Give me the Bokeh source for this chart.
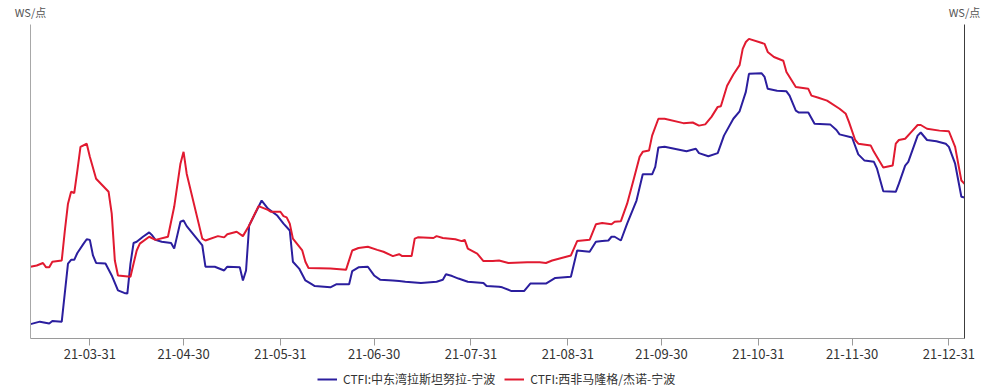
import pandas as pd
from datetime import datetime
from bokeh.plotting import figure
from bokeh.layouts import column
from bokeh.models import (Range1d, LinearAxis, FixedTicker, DatetimeTickFormatter,
                          CustomJSTickFormatter, Legend, LegendItem)
from bokeh.embed import file_html
from bokeh.resources import INLINE

# ---------------- data ----------------
series_names = ["CTFI:中东湾拉斯坦努拉-宁波", "CTFI:西非马隆格/杰诺-宁波"]
unit_label = "WS/点"

tick_dates = ["2021-03-31", "2021-04-30", "2021-05-31", "2021-06-30", "2021-07-31",
              "2021-08-31", "2021-09-30", "2021-10-31", "2021-11-30", "2021-12-31"]

blue_dates = [
    "2021-03-12", "2021-03-15", "2021-03-18", "2021-03-19", "2021-03-22", "2021-03-24",
    "2021-03-25", "2021-03-26", "2021-03-27", "2021-03-29", "2021-03-30", "2021-03-31",
    "2021-04-01", "2021-04-02", "2021-04-05", "2021-04-07", "2021-04-09", "2021-04-11",
    "2021-04-12", "2021-04-13", "2021-04-14", "2021-04-15", "2021-04-17", "2021-04-19",
    "2021-04-20", "2021-04-21", "2021-04-23", "2021-04-26", "2021-04-27", "2021-04-29",
    "2021-04-30", "2021-05-01", "2021-05-06", "2021-05-07", "2021-05-10", "2021-05-13",
    "2021-05-14", "2021-05-18", "2021-05-19", "2021-05-20", "2021-05-21", "2021-05-25",
    "2021-05-27", "2021-05-30", "2021-06-01", "2021-06-03", "2021-06-04", "2021-06-06",
    "2021-06-08", "2021-06-10", "2021-06-11", "2021-06-16", "2021-06-18", "2021-06-22",
    "2021-06-23", "2021-06-25", "2021-06-28", "2021-06-30", "2021-07-02", "2021-07-06",
    "2021-07-08", "2021-07-10", "2021-07-15", "2021-07-20", "2021-07-22", "2021-07-23",
    "2021-07-25", "2021-07-27", "2021-07-30", "2021-08-04", "2021-08-05", "2021-08-09",
    "2021-08-10", "2021-08-13", "2021-08-17", "2021-08-19", "2021-08-24", "2021-08-27",
    "2021-09-01", "2021-09-03", "2021-09-07", "2021-09-09", "2021-09-11", "2021-09-13",
    "2021-09-14", "2021-09-15", "2021-09-17", "2021-09-19", "2021-09-22", "2021-09-24",
    "2021-09-27", "2021-09-28", "2021-09-29", "2021-10-01", "2021-10-08", "2021-10-11",
    "2021-10-12", "2021-10-15", "2021-10-18", "2021-10-20", "2021-10-23", "2021-10-25",
    "2021-10-27", "2021-10-28", "2021-11-01", "2021-11-02", "2021-11-03", "2021-11-06",
    "2021-11-09", "2021-11-10", "2021-11-12", "2021-11-13", "2021-11-16", "2021-11-18",
    "2021-11-23", "2021-11-25", "2021-11-26", "2021-11-30", "2021-12-02", "2021-12-04",
    "2021-12-07", "2021-12-08", "2021-12-10", "2021-12-14", "2021-12-15", "2021-12-17",
    "2021-12-18", "2021-12-21", "2021-12-22", "2021-12-24", "2021-12-27", "2021-12-30",
    "2021-12-31", "2022-01-02", "2022-01-04", "2022-01-05"]
blue_values = [
    27.3, 27.7, 27.4, 27.8, 27.7, 37.0,
    37.6, 37.6, 38.7, 40.2, 40.9, 40.8,
    38.3, 37.1, 37.0, 35.1, 32.7, 32.3,
    32.2, 37.0, 40.3, 40.5, 41.3, 42.0,
    41.5, 40.8, 40.5, 40.3, 39.4, 43.7,
    43.9, 43.0, 39.9, 36.5, 36.5, 35.9,
    36.5, 36.4, 34.3, 35.9, 43.1, 47.1,
    45.8, 44.7, 43.4, 42.3, 37.3, 36.2,
    34.3, 33.7, 33.4, 33.2, 33.7, 33.7,
    35.8, 36.4, 36.5, 35.1, 34.4, 34.3,
    34.2, 34.1, 33.9, 34.1, 34.4, 35.3,
    35.0, 34.6, 34.1, 33.9, 33.4, 33.3,
    33.2, 32.6, 32.6, 33.8, 33.8, 34.7,
    34.9, 39.1, 38.9, 40.5, 40.6, 40.7,
    41.3, 41.3, 40.7, 43.4, 47.1, 51.3,
    51.3, 52.5, 55.6, 55.7, 55.0, 55.4,
    54.7, 54.2, 54.7, 57.5, 60.2, 61.4,
    64.5, 67.4, 67.5, 66.9, 65.0, 64.7,
    64.6, 63.9, 61.5, 61.2, 61.2, 59.4,
    59.3, 58.4, 57.7, 57.2, 54.5, 53.5,
    53.3, 52.2, 48.6, 48.5, 49.8, 52.7,
    53.3, 57.5, 58.0, 56.8, 56.6, 56.2,
    55.7, 53.0, 47.7, 47.6]

red_dates = [
    "2021-03-12", "2021-03-14", "2021-03-16", "2021-03-17", "2021-03-18", "2021-03-19",
    "2021-03-22", "2021-03-23", "2021-03-24", "2021-03-25", "2021-03-26", "2021-03-27",
    "2021-03-28", "2021-03-30", "2021-03-31", "2021-04-02", "2021-04-06", "2021-04-07",
    "2021-04-08", "2021-04-09", "2021-04-13", "2021-04-14", "2021-04-15", "2021-04-16",
    "2021-04-19", "2021-04-21", "2021-04-25", "2021-04-27", "2021-04-29", "2021-04-30",
    "2021-05-01", "2021-05-06", "2021-05-07", "2021-05-11", "2021-05-13", "2021-05-14",
    "2021-05-17", "2021-05-19", "2021-05-21", "2021-05-24", "2021-05-27", "2021-05-28",
    "2021-05-31", "2021-06-01", "2021-06-02", "2021-06-03", "2021-06-04", "2021-06-07",
    "2021-06-08", "2021-06-09", "2021-06-16", "2021-06-21", "2021-06-23", "2021-06-25",
    "2021-06-28", "2021-07-01", "2021-07-03", "2021-07-06", "2021-07-08", "2021-07-09",
    "2021-07-12", "2021-07-13", "2021-07-14", "2021-07-19", "2021-07-20", "2021-07-22",
    "2021-07-26", "2021-07-28", "2021-07-29", "2021-07-30", "2021-08-02", "2021-08-04",
    "2021-08-07", "2021-08-09", "2021-08-12", "2021-08-18", "2021-08-22", "2021-08-24",
    "2021-08-26", "2021-09-01", "2021-09-03", "2021-09-07", "2021-09-09", "2021-09-11",
    "2021-09-14", "2021-09-15", "2021-09-17", "2021-09-19", "2021-09-21", "2021-09-23",
    "2021-09-24", "2021-09-26", "2021-09-27", "2021-09-29", "2021-10-01", "2021-10-07",
    "2021-10-10", "2021-10-12", "2021-10-14", "2021-10-16", "2021-10-18", "2021-10-19",
    "2021-10-21", "2021-10-23", "2021-10-25", "2021-10-26", "2021-10-27", "2021-10-28",
    "2021-11-02", "2021-11-03", "2021-11-05", "2021-11-08", "2021-11-09", "2021-11-12",
    "2021-11-16", "2021-11-17", "2021-11-19", "2021-11-22", "2021-11-26", "2021-11-28",
    "2021-11-29", "2021-12-01", "2021-12-02", "2021-12-06", "2021-12-07", "2021-12-10",
    "2021-12-13", "2021-12-14", "2021-12-15", "2021-12-17", "2021-12-19", "2021-12-21",
    "2021-12-22", "2021-12-24", "2021-12-28", "2021-12-31", "2022-01-02", "2022-01-04",
    "2022-01-05"]
red_values = [
    36.5, 36.7, 37.1, 36.4, 36.4, 37.3,
    37.5, 42.3, 46.6, 48.5, 48.3, 51.9,
    55.7, 56.2, 54.1, 50.6, 48.5, 45.0,
    37.5, 35.1, 34.9, 37.0, 39.1, 40.2,
    41.3, 40.8, 41.3, 46.1, 53.0, 54.9,
    51.4, 41.0, 40.7, 41.4, 41.2, 41.7,
    42.1, 41.4, 43.1, 46.2, 45.6, 45.3,
    45.3, 44.6, 44.4, 43.4, 41.0, 39.1,
    37.3, 36.3, 36.2, 36.0, 39.1, 39.5,
    39.7, 39.2, 38.9, 38.2, 38.5, 38.2,
    38.2, 41.0, 41.2, 41.1, 41.4, 41.1,
    40.9, 40.6, 40.8, 39.4, 38.6, 37.4,
    37.4, 37.5, 37.1, 37.2, 37.2, 37.1,
    37.5, 38.3, 40.6, 40.8, 43.3, 43.5,
    43.3, 43.7, 43.8, 46.6, 50.3, 54.1,
    54.9, 55.1, 57.5, 60.2, 60.2, 59.5,
    59.6, 59.1, 59.3, 60.5, 62.1, 62.2,
    65.5, 67.3, 68.8, 71.4, 72.5, 73.0,
    72.2, 70.9, 70.1, 69.5, 67.7, 65.3,
    65.0, 63.9, 63.6, 63.1, 61.8, 61.0,
    59.7, 56.8, 56.2, 55.9, 54.9, 52.4,
    52.7, 56.2, 56.8, 57.0, 58.1, 59.2,
    59.2, 58.6, 58.3, 58.2, 55.7, 50.3,
    49.8]

# ---------------- figure ----------------
FONT = "Noto Sans CJK SC"
BLUE = "#2B1E9E"
RED = "#E11A30"
W = 990

x_start = datetime(2021, 3, 12)
x_end = datetime(2022, 1, 5)
y_lo, y_hi = 25, 75.3

p = figure(width=W, height=366, x_axis_type="datetime",
           x_range=Range1d(x_start, x_end), y_range=Range1d(y_lo, y_hi),
           output_backend="svg", toolbar_location=None,
           min_border_left=30, min_border_right=26, min_border_top=24, min_border_bottom=28)
p.outline_line_color = None
p.xgrid.visible = False
p.ygrid.visible = False
p.background_fill_color = "white"
p.border_fill_color = "white"

bx = pd.to_datetime(blue_dates)
rx = pd.to_datetime(red_dates)
r_blue = p.line(bx, blue_values, line_color=BLUE, line_width=2)
r_red = p.line(rx, red_values, line_color=RED, line_width=2)

# x axis
tick_ms = [int(pd.Timestamp(d).value // 10**6) for d in tick_dates]
xa = p.xaxis[0]
xa.ticker = FixedTicker(ticks=tick_ms)
fmt = "%y-%m-%d"
xa.formatter = DatetimeTickFormatter(days=fmt, months=fmt, years=fmt, hours=fmt,
                                     hourmin=fmt, minutes=fmt, minsec=fmt, seconds=fmt,
                                     milliseconds=fmt)
xa.axis_line_color = "#9a9a9a"
xa.major_tick_line_color = "#9a9a9a"
xa.minor_tick_line_color = None
xa.major_tick_in = 0
xa.major_tick_out = 7
xa.major_label_standoff = 3
xa.major_label_text_font = FONT
xa.major_label_text_font_size = "13px"
xa.major_label_text_color = "#333333"

# left axis (no ticks)
ya = p.yaxis[0]
ya.ticker = FixedTicker(ticks=[])
ya.major_label_text_font_size = "0px"
ya.major_tick_line_color = None
ya.minor_tick_line_color = None
ya.axis_line_color = "#a8a8a8"

# right axis (no ticks)
ra = LinearAxis(ticker=FixedTicker(ticks=[]), major_label_text_font_size="0px",
                major_tick_line_color=None, minor_tick_line_color=None,
                axis_line_color="#3c3c3c")
p.add_layout(ra, "right")

# unit labels above both y axes: an above-axis with ticks at both range ends
x_start_ms = pd.Timestamp(x_start).value // 10**6
x_end_ms = pd.Timestamp(x_end).value // 10**6
top_axis = LinearAxis(ticker=FixedTicker(ticks=[x_start_ms + 1, x_end_ms - 1]),
                      formatter=CustomJSTickFormatter(code="return '%s';" % unit_label),
                      axis_line_color=None, major_tick_line_color=None,
                      minor_tick_line_color=None, major_tick_in=0, major_tick_out=0,
                      minor_tick_in=0, minor_tick_out=0, major_label_standoff=5,
                      major_label_text_font=FONT, major_label_text_font_size="11px",
                      major_label_text_color="#555555")
p.add_layout(top_axis, "above")

# ---------------- legend strip ----------------
lg = figure(width=W, height=24, output_backend="svg", toolbar_location=None,
            x_range=Range1d(x_start, x_end), y_range=Range1d(-2, -1),
            x_axis_location=None, y_axis_location=None, min_border=0)
lg.outline_line_color = None
lg.xgrid.visible = False
lg.ygrid.visible = False
lb = lg.line(bx, blue_values, line_color=BLUE, line_width=2)
lr = lg.line(rx, red_values, line_color=RED, line_width=2)
legend = Legend(items=[LegendItem(label=series_names[0], renderers=[lb]),
                       LegendItem(label=series_names[1], renderers=[lr])],
                orientation="horizontal", location=(287, 3),
                border_line_color=None, background_fill_alpha=0,
                padding=0, margin=0, spacing=9, label_standoff=6,
                glyph_width=20, glyph_height=14, label_height=14,
                label_text_font=FONT, label_text_font_size="12px",
                label_text_color="#333333")
lg.add_layout(legend)

layout = column(p, lg, spacing=0)
open("out.html", "w").write(file_html(layout, INLINE))
